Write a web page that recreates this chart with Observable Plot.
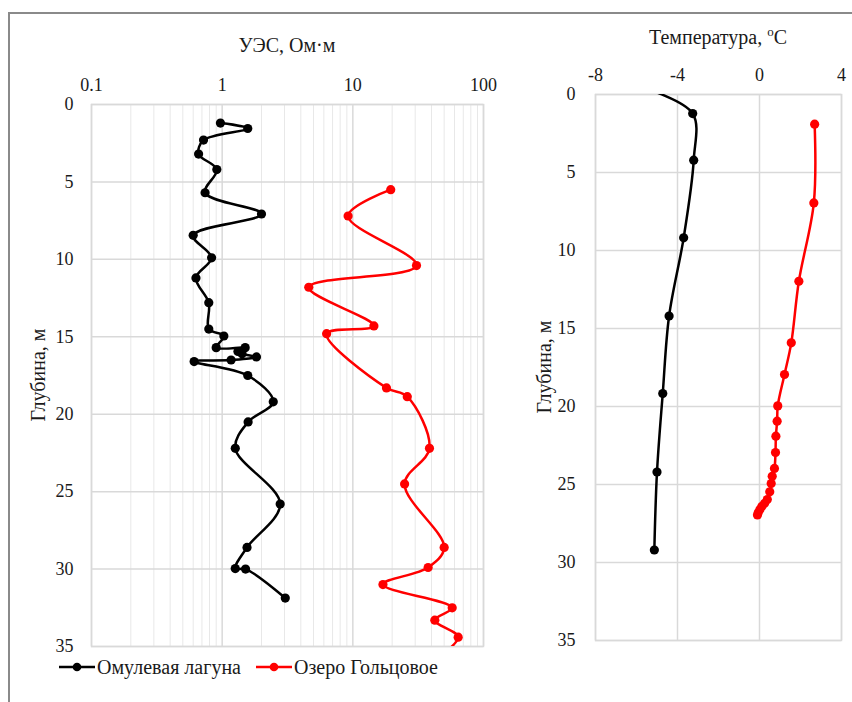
<!DOCTYPE html>
<html><head><meta charset="utf-8">
<script src="https://cdn.jsdelivr.net/npm/d3@7"></script>
<script src="https://cdn.jsdelivr.net/npm/@observablehq/plot@0.6"></script>
<style>
body{margin:0;background:#fff;width:852px;height:702px;overflow:hidden;position:relative;font-family:"Liberation Serif","Times New Roman",Times,"Tinos","Noto Serif","FreeSerif","DejaVu Serif",Georgia,serif;color:#1a1a1a}
#border{position:absolute;left:8px;top:12px;width:900px;height:800px;border-top:2px solid #8a8a8a;border-left:2px solid #8a8a8a}
.abs{position:absolute}
.title{font-size:20px;line-height:24px;transform:translateX(-50%);white-space:nowrap}
.ytitle{font-size:20px;line-height:24px;transform:translate(-50%,-50%) rotate(-90deg);white-space:nowrap}
#legend{position:absolute;left:58px;top:655px;font-size:20px;line-height:24px;display:flex;align-items:center;white-space:nowrap}
#legend .item{display:flex;align-items:center;margin-right:14px}
#legend svg{margin-right:1px}
svg text{font-family:"Liberation Serif","Times New Roman",Times,"Tinos","Noto Serif","FreeSerif","DejaVu Serif",Georgia,serif}
</style></head><body>
<div id="border"></div>
<div id="left" class="abs" style="left:0;top:0"></div>
<div id="right" class="abs" style="left:520px;top:0"></div>
<div class="abs title" style="left:287px;top:33px">УЭС, Ом·м</div>
<div class="abs title" style="left:718px;top:20px">Температура, <sup style="font-size:13px">o</sup>C</div>
<div class="abs ytitle" style="left:38px;top:375px">Глубина, м</div>
<div class="abs ytitle" style="left:544px;top:367px">Глубина, м</div>
<div id="legend"></div>
<script>
// Tick values
const depthTicks = [0, 5, 10, 15, 20, 25, 30, 35];
const resTicks = [0.1, 1, 10, 100];
const resGrid = [0.2,0.3,0.4,0.5,0.6,0.7,0.8,0.9,2,3,4,5,6,7,8,9,20,30,40,50,60,70,80,90];
const tempTicks = [-8, -4, 0, 4];

// Series names
const seriesNames = ["Омулевая лагуна", "Озеро Гольцовое"];
const seriesColors = ["#000000", "#ff0000"];

// Resistivity (УЭС, Ом·м) vs depth — Омулевая лагуна
const omResDepth = [1.2,1.55,2.3,3.2,4.2,5.7,7.07,8.45,9.9,11.2,12.8,14.5,14.95,15.7,15.7,15.95,16.1,16.3,16.5,16.6,17.5,19.2,20.5,22.2,25.8,28.6,29.97,30.0,31.87];
const omRes      = [0.97,1.57,0.72,0.66,0.91,0.74,2.0,0.6,0.83,0.63,0.79,0.79,1.03,0.9,1.5,1.32,1.42,1.83,1.17,0.61,1.57,2.46,1.58,1.26,2.78,1.55,1.26,1.51,3.04];
// Resistivity — Озеро Гольцовое
const goResDepth = [5.5,7.2,10.4,11.8,14.3,14.8,18.3,18.87,22.2,24.5,28.6,29.9,31.0,32.5,33.3,34.4,36.0];
const goRes      = [19.5,9.2,30.7,4.6,14.5,6.3,18.1,26.1,38.6,24.9,50,37.7,17.0,57.6,42.4,64,40];

// Temperature (°C) vs depth — Омулевая лагуна
const omTempDepth = [-0.4,1.22,4.21,9.19,14.2,19.17,24.2,29.2];
const omTemp      = [-5.6,-3.26,-3.21,-3.70,-4.41,-4.72,-5.0,-5.13];
// Temperature — Озеро Гольцовое
const goTempDepth = [1.9,6.95,11.97,15.92,17.95,19.96,20.94,21.9,22.95,23.97,24.47,24.94,25.47,25.96,26.2,26.4,26.6,26.8,26.95];
const goTemp      = [2.69,2.65,1.92,1.55,1.22,0.89,0.86,0.80,0.78,0.73,0.62,0.57,0.50,0.38,0.25,0.12,0.02,-0.06,-0.1];

const zip = (ds, vs) => ds.map((d, i) => ({depth: d, value: vs[i]}));
const omResData = zip(omResDepth, omRes);
const goResData = zip(goResDepth, goRes);
const omTempData = zip(omTempDepth, omTemp);
const goTempData = zip(goTempDepth, goTemp);

const gridColor = "#d9d9d9";
const style = {fontFamily: "'Liberation Serif', 'Times New Roman', Times, Tinos, 'Noto Serif', FreeSerif, 'DejaVu Serif', serif", fontSize: "18px", color: "#1a1a1a", background: "transparent", overflow: "visible"};

function seriesMarks(data, color) {
  return [
    Plot.line(data, {x: "value", y: "depth", curve: "catmull-rom", stroke: color, strokeWidth: 2.5, clip: true}),
    Plot.dot(data, {x: "value", y: "depth", r: 4.6, fill: color, stroke: "none", clip: true})
  ];
}

const left = Plot.plot({
  width: 500, height: 660,
  marginLeft: 91, marginRight: 17, marginTop: 104, marginBottom: 14,
  style,
  x: {type: "log", domain: [0.1, 100]},
  y: {domain: [0, 35], reverse: true},
  marks: [
    Plot.ruleX(resGrid, {stroke: "#e8e8e8", strokeWidth: 1}),
    Plot.ruleX(resTicks, {stroke: gridColor, strokeWidth: 1.5}),
    Plot.ruleY(depthTicks, {stroke: gridColor, strokeWidth: 1.5}),
    Plot.frame({stroke: gridColor, strokeWidth: 1.5}),
    Plot.axisX(resTicks, {anchor: "top", tickSize: 0, tickPadding: 14, tickFormat: d => String(d), label: null}),
    Plot.axisY(depthTicks, {anchor: "left", tickSize: 0, tickPadding: 18, tickFormat: d => String(d), label: null}),
    ...seriesMarks(omResData, seriesColors[0]),
    ...seriesMarks(goResData, seriesColors[1])
  ]
});
document.getElementById("left").appendChild(left);

const right = Plot.plot({
  width: 332, height: 660,
  marginLeft: 75, marginRight: 11, marginTop: 94, marginBottom: 20,
  style,
  x: {domain: [-8, 4]},
  y: {domain: [0, 35], reverse: true},
  marks: [
    Plot.ruleX(tempTicks, {stroke: gridColor, strokeWidth: 1.5}),
    Plot.ruleY(depthTicks, {stroke: gridColor, strokeWidth: 1.5}),
    Plot.frame({stroke: gridColor, strokeWidth: 1.5}),
    Plot.axisX(tempTicks, {anchor: "top", tickSize: 0, tickPadding: 14, tickFormat: d => String(d), label: null}),
    Plot.axisY(depthTicks, {anchor: "left", tickSize: 0, tickPadding: 20, tickFormat: d => String(d), label: null}),
    ...seriesMarks(omTempData, seriesColors[0]),
    ...seriesMarks(goTempData, seriesColors[1])
  ]
});
document.getElementById("right").appendChild(right);

// Legend
const legend = document.getElementById("legend");
seriesNames.forEach((name, i) => {
  const item = document.createElement("div");
  item.className = "item";
  item.innerHTML = `<svg width="38" height="14"><line x1="1" y1="7" x2="37" y2="7" stroke="${seriesColors[i]}" stroke-width="2.5"/><circle cx="19" cy="7" r="4.3" fill="${seriesColors[i]}"/></svg><span>${name}</span>`;
  legend.appendChild(item);
});
</script>
</body></html>
